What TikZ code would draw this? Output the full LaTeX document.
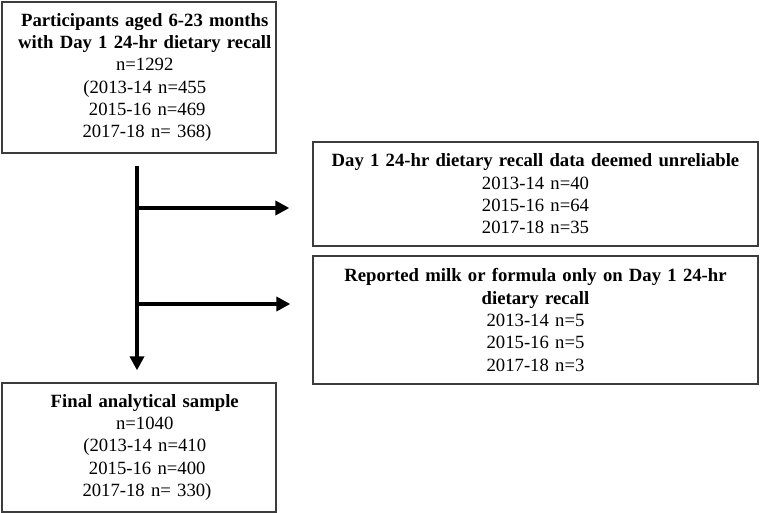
\documentclass[tikz,border=0pt]{standalone}
\usepackage{fontspec}
\setmainfont{Liberation Serif}
\usepackage{xcolor}
\usepackage{tikz}
\usetikzlibrary{
  arrows.meta,
  positioning,
  calc,
}
\definecolor{framegray}{HTML}{3C3C3C}
\newcommand{\indentin}{\leftskip=11.5pt plus 1fil\rightskip=0pt plus 1fil\parfillskip=0pt}
\newcommand{\lead}[1]{\makebox[#1]{}}

\begin{document}
\begin{tikzpicture}[
    x=1pt, y=-1pt,
    box/.style={draw=framegray, line width=1.3pt, align=center,
                inner xsep=3pt, inner ysep=0pt,
                font=\fontsize{18.7}{22.3}\selectfont},
    leftbox/.style={box, text width=268pt},
    rightbox/.style={box, text width=439pt, minimum width=445pt},
    flow/.style={line width=4.5pt, -{Triangle[length=14pt, width=14pt]}},
  ]
  \useasboundingbox (0,0) rectangle (760,513);

  \node[leftbox, minimum height=151pt] (start) at (139,77.5)
    {\indentin\textbf{Participants aged 6-23 months}\\
     \textbf{with Day 1 24-hr dietary recall}\\
     n=1292\\
     (2013-14 n=455\\
     \lead{5pt}2015-16 n=469\\
     \lead{16pt}2017-18 n= 368)};
  \node[rightbox, minimum height=104pt] (unrel) at (535.5,194)
    {\textbf{Day 1 24-hr dietary recall data deemed unreliable}\\
     2013-14 n=40\\
     2015-16 n=64\\
     2017-18 n=35};
  \node[rightbox, minimum height=128pt] (milk) at (535.5,320)
    {\textbf{Reported milk or formula only on Day 1 24-hr}\\
     \textbf{dietary recall}\\
     2013-14 n=5\\
     2015-16 n=5\\
     2017-18 n=3};
  \node[leftbox, minimum height=129pt] (final) at (139,447.5)
    {\indentin\textbf{Final analytical sample}\\
     n=1040\\
     (2013-14 n=410\\
     \lead{5pt}2015-16 n=400\\
     \lead{16pt}2017-18 n= 330)};

  % exclusion branches
  \coordinate (j1) at (137,208);
  \coordinate (j2) at (137,304);

  \draw[flow, shorten <=12pt, shorten >=12pt]
    ([xshift=-2pt]start.south) -- ([xshift=-2pt]final.north);
  \draw[flow, shorten >=23pt] (j1) -- (j1 -| unrel.west);
  \draw[flow, shorten >=22pt] (j2) -- (j2 -| milk.west);
\end{tikzpicture}
\end{document}
